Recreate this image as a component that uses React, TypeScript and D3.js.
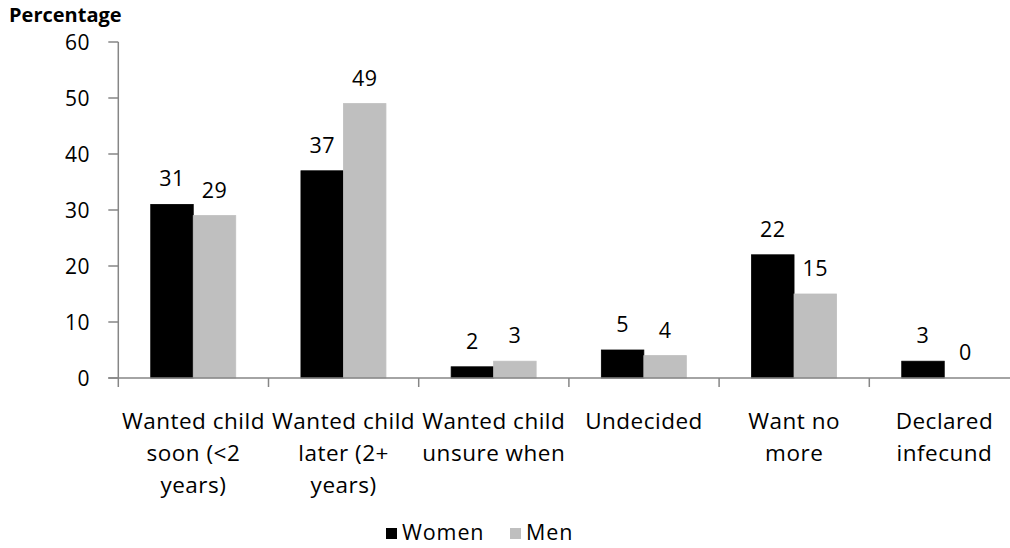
import React from "react";
import * as d3 from "d3";

const categories = [
  "Wanted child soon (<2 years)",
  "Wanted child later (2+ years)",
  "Wanted child unsure when",
  "Undecided",
  "Want no more",
  "Declared infecund",
];
const categoryLines = [
  ["Wanted child", "soon (<2", "years)"],
  ["Wanted child", "later (2+", "years)"],
  ["Wanted child", "unsure when"],
  ["Undecided"],
  ["Want no", "more"],
  ["Declared", "infecund"],
];
const seriesNames = ["Women", "Men"];
const women = [31, 37, 2, 5, 22, 3];
const men = [29, 49, 3, 4, 15, 0];
const yTicks = [0, 10, 20, 30, 40, 50, 60];
const colors = ["#000000", "#bfbfbf"];

const W = 1010;
const H = 548;
const FONT = "'Open Sans', 'DejaVu Sans', sans-serif";

export default function App() {
  const left = 118.3;
  const step = 150.2;
  const x = d3
    .scaleBand<string>()
    .domain(categories)
    .range([left, left + step * categories.length])
    .paddingInner(0)
    .paddingOuter(0);
  const bw = x.bandwidth();
  const xs = d3
    .scaleBand<string>()
    .domain(seriesNames)
    .range([bw * 0.216, bw * 0.216 + 85]);
  const y = d3.scaleLinear().domain([0, 60]).range([378, 42]);
  const values = [women, men];
  const axisColor = "#868686";

  return (
    <div style={{ position: "fixed", left: 0, top: 0 }}>
      <svg width={W} height={H} style={{ display: "block", fontFamily: FONT }}>
        <rect width={W} height={H} fill="#fff" />
        {/* bars */}
        {seriesNames.map((s, si) =>
          categories.map((c, ci) => {
            const v = values[si][ci];
            const bx = (x(c) as number) + (xs(s) as number);
            const by = y(v);
            return (
              <g key={s + c}>
                {v > 0 && (
                  <rect
                    x={bx}
                    y={by}
                    width={xs.bandwidth()}
                    height={y(0) - by}
                    fill={colors[si]}
                    stroke={si === 0 ? "#000" : "#bfbfbf"}
                    strokeWidth={0.8}
                  />
                )}
                <text
                  x={bx + xs.bandwidth() / 2}
                  y={by - 18}
                  textAnchor="middle"
                  fontSize={21.5}
                  letterSpacing={0.5}
                  fill="#000"
                >
                  {v}
                </text>
              </g>
            );
          })
        )}
        {/* y axis */}
        <line x1={left} x2={left} y1={y(60)} y2={y(0)} stroke={axisColor} strokeWidth={1.5} />
        {yTicks.map((t) => (
          <g key={t}>
            <line x1={left - 10} x2={left} y1={y(t)} y2={y(t)} stroke={axisColor} strokeWidth={1.5} />
            <text x={90} y={y(t)} dy="0.38em" textAnchor="end" fontSize={21} letterSpacing={0.5} fill="#000">
              {t}
            </text>
          </g>
        ))}
        {/* x axis */}
        <line x1={left - 10} x2={W} y1={y(0)} y2={y(0)} stroke={axisColor} strokeWidth={1.5} />
        {categories.map((c) => (
          <line
            key={"t" + c}
            x1={x(c) as number}
            x2={x(c) as number}
            y1={y(0)}
            y2={y(0) + 9}
            stroke={axisColor}
            strokeWidth={1.5}
          />
        ))}
        {categories.map((c, ci) => (
          <text key={"l" + c} textAnchor="middle" fontSize={22.5} letterSpacing={0.5} fill="#000">
            {categoryLines[ci].map((ln, li) => (
              <tspan key={li} x={(x(c) as number) + bw / 2} y={429 + li * 32}>
                {ln}
              </tspan>
            ))}
          </text>
        ))}
        {/* axis title */}
        <text x={9} y={22} fontSize={20} fontWeight="bold" fill="#000">
          Percentage
        </text>
        {/* legend */}
        {seriesNames.map((s, si) => {
          const lx = [386, 510][si];
          return (
            <g key={"lg" + s}>
              <rect x={lx} y={528} width={11} height={11} fill={colors[si]} />
              <text x={lx + 16} y={540} fontSize={21.5} letterSpacing={0.9} fill="#000">
                {s}
              </text>
            </g>
          );
        })}
      </svg>
    </div>
  );
}
